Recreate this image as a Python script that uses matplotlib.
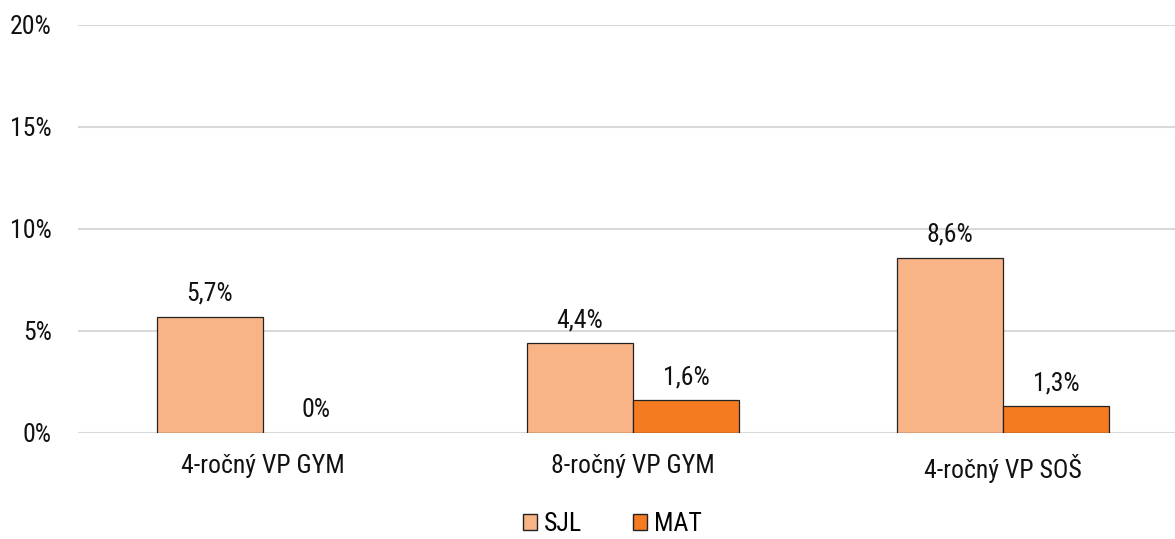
import matplotlib
matplotlib.use('Agg')
import matplotlib.pyplot as plt
import numpy as np
from matplotlib.patches import Patch

categories = ['4-ročný VP GYM', '8-ročný VP GYM', '4-ročný VP SOŠ']
sjl = [5.7, 4.4, 8.6]
mat = [0.0, 1.6, 1.3]
series_names = ['SJL', 'MAT']
yticks = [0, 5, 10, 15, 20]

plt.rcParams['font.family'] = ['Roboto Condensed', 'Roboto', 'DejaVu Sans']
FS = 18.5

fig = plt.figure(figsize=(11.75, 5.39), dpi=100)
ax = fig.add_axes([78/1175, 1-433/539, 1-78/1175, (433-25)/539])

x = np.arange(len(categories))
w = 0.287
c_sjl = '#F8B486'
c_mat = '#F47B20'
b1 = ax.bar(x - w/2, sjl, w, color=c_sjl, edgecolor='#222222', linewidth=0.9, zorder=3)
b2 = ax.bar(x + w/2, mat, w, color=c_mat, edgecolor='#222222', linewidth=0.9, zorder=3)

def fmt(v):
    s = ('%.1f' % v).replace('.', ',')
    if s.endswith(',0'):
        s = s[:-2]
    return s + '%'

for bars, vals in ((b1, sjl), (b2, mat)):
    for rect, v in zip(bars, vals):
        if v == 0:
            rect.set_linewidth(0)
        ax.annotate(fmt(v), (rect.get_x() + rect.get_width()/2, v),
                    xytext=(0, 8), textcoords='offset points',
                    ha='center', va='bottom', fontsize=FS, color='#111111')

ax.set_xlim(-0.5, 2.465)
ax.set_ylim(0, 20)
ax.set_yticks(yticks)
ax.set_yticklabels(['%d%%' % t for t in yticks], fontsize=FS)
ax.set_xticks(x)
ax.set_xticklabels(categories, fontsize=FS)
ax.tick_params(axis='both', length=0, colors='#111111')
ax.tick_params(axis='y', pad=19)
ax.tick_params(axis='x', pad=15)
ax.grid(axis='y', color='#D9D9D9', linewidth=1.5, zorder=0)
ax.grid(axis='x', visible=False)
for s in ax.spines.values():
    s.set_visible(False)

handles = [Patch(facecolor=c_sjl, edgecolor='#222222', linewidth=1.0),
           Patch(facecolor=c_mat, edgecolor='#222222', linewidth=1.0)]
fig.legend(handles, series_names, loc='lower center', bbox_to_anchor=(0.521, -0.028),
           ncol=2, frameon=False, fontsize=FS, handlelength=0.55, handleheight=0.55,
           handletextpad=0.25, columnspacing=2.0, borderpad=0.2)

fig.savefig('out.png', dpi=100)
